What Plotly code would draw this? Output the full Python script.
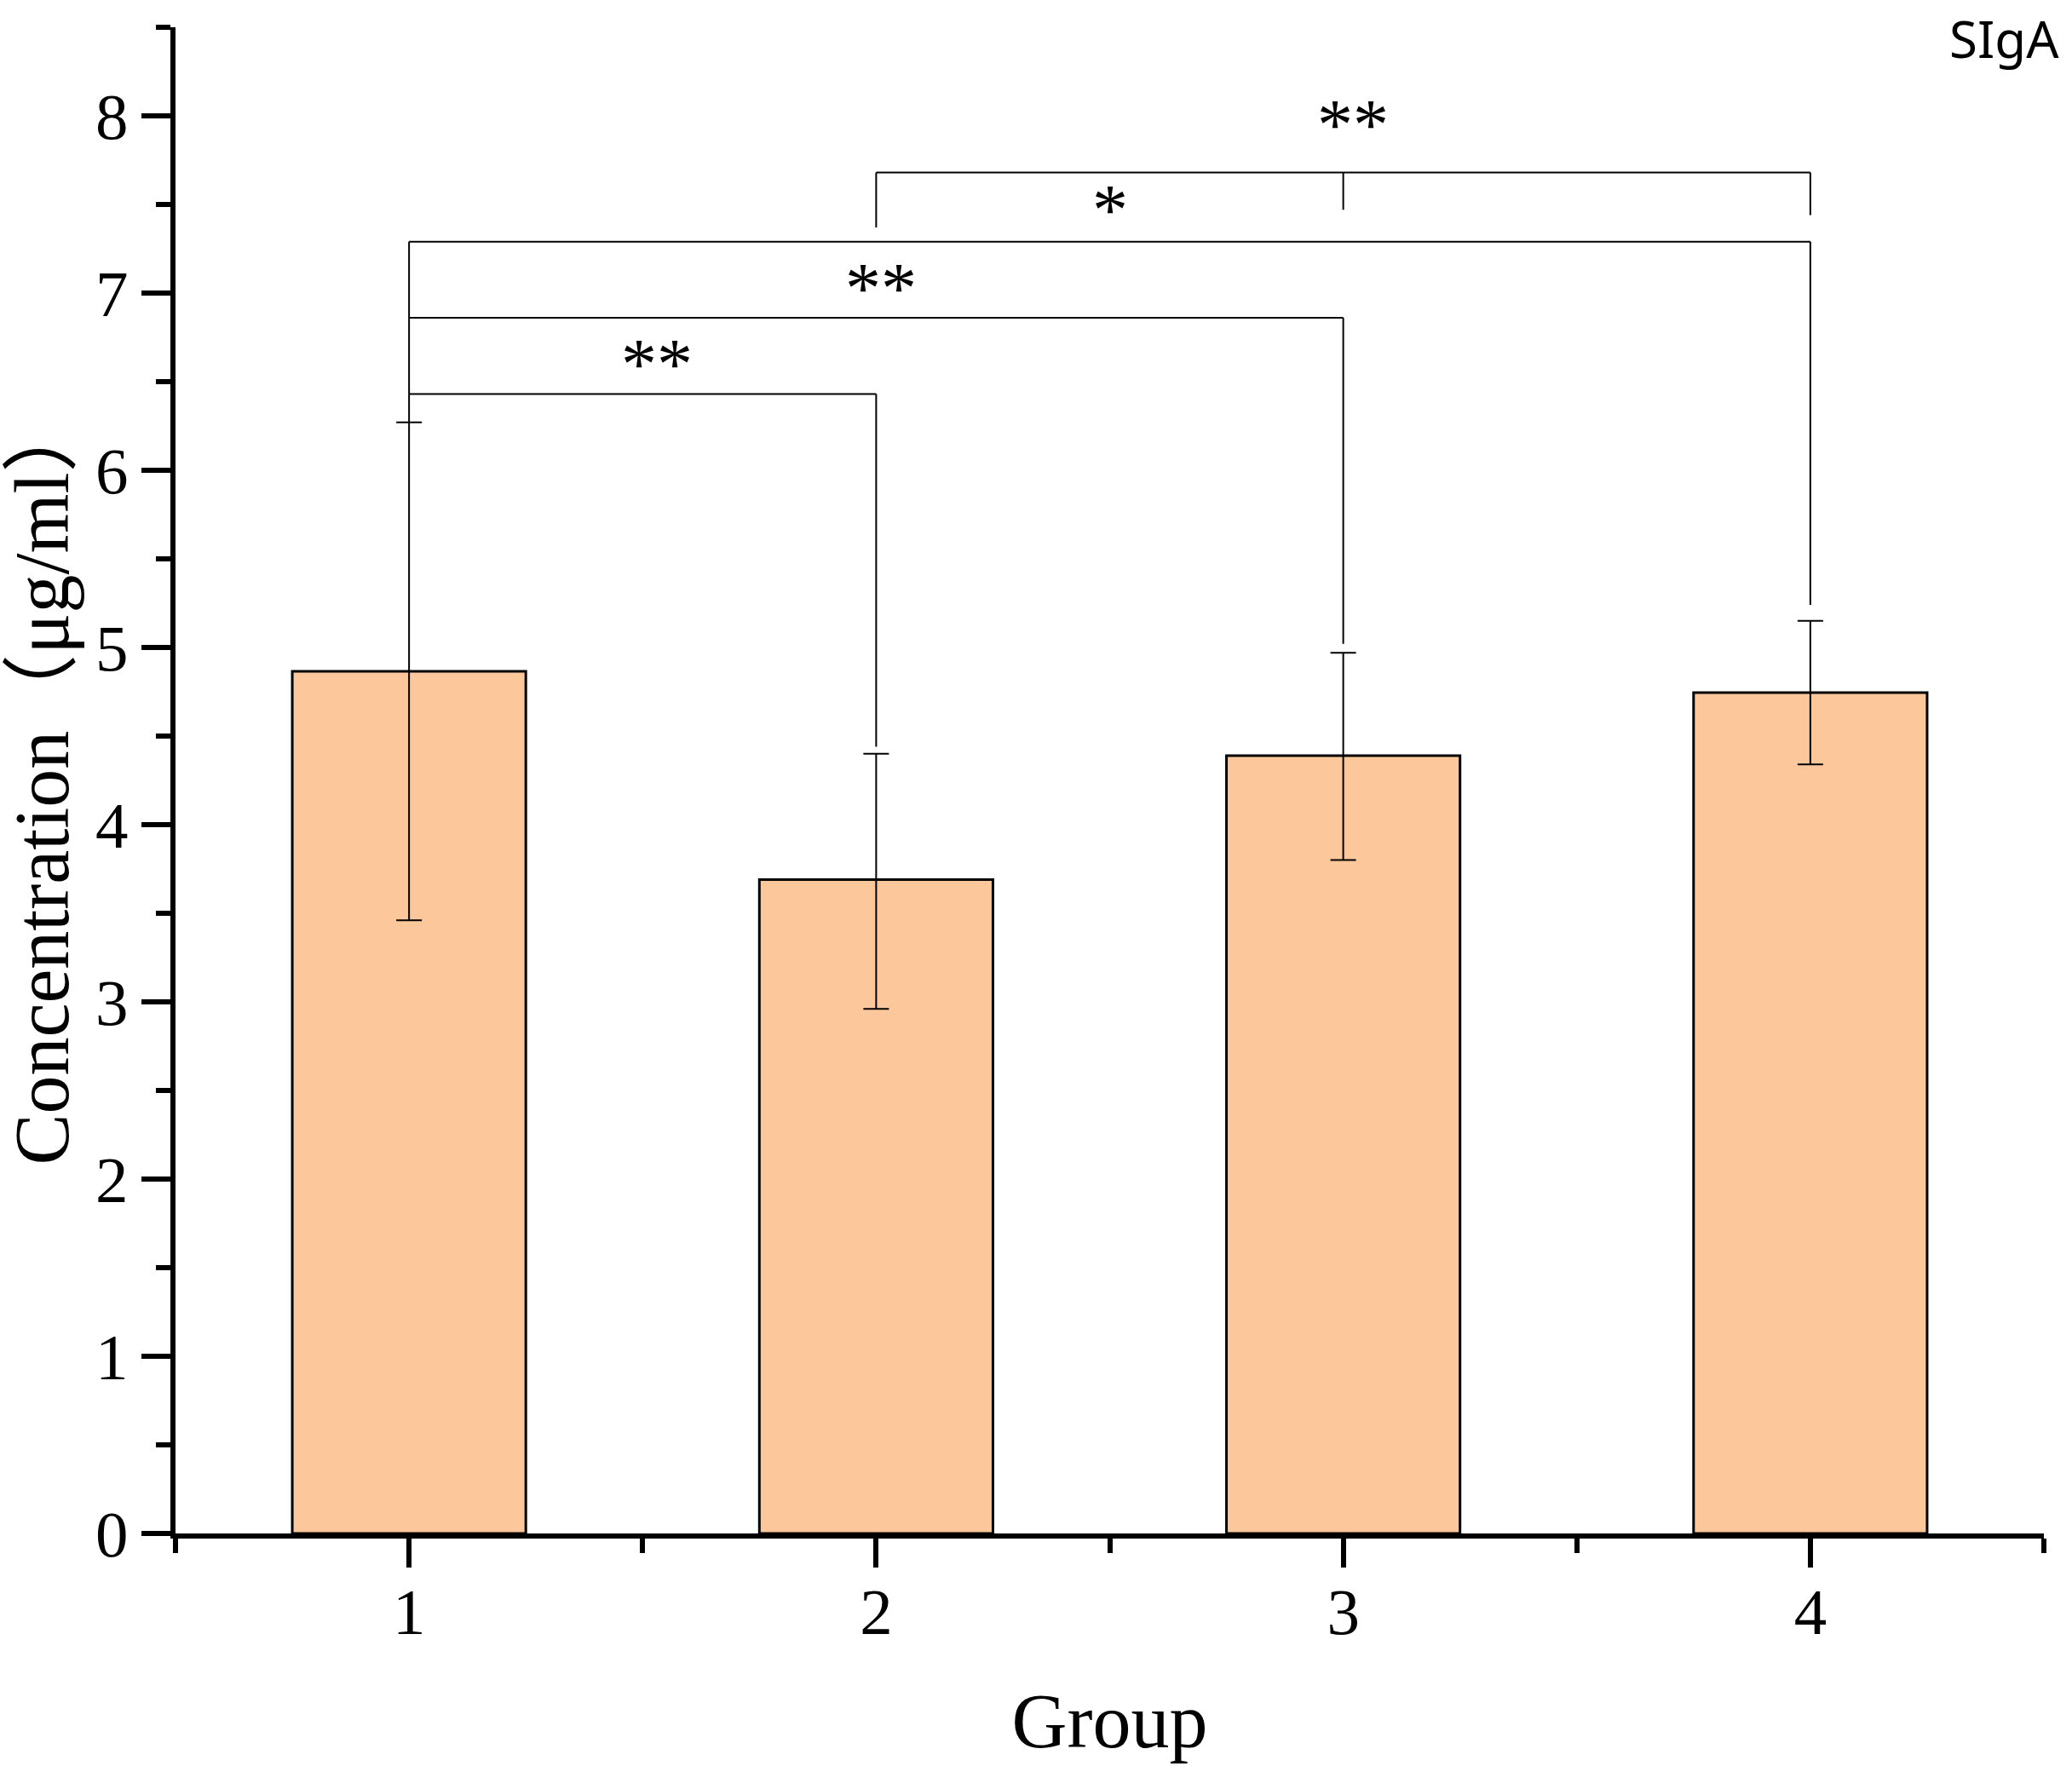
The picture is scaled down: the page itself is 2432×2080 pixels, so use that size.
import plotly.graph_objects as go

# bar data
groups = [1, 2, 3, 4]
means = [4.865, 3.69, 4.39, 4.745]
err_up = [1.405, 0.71, 0.58, 0.405]
err_down = [1.405, 0.73, 0.59, 0.405]

y_ticks = [0, 1, 2, 3, 4, 5, 6, 7, 8]
x_minor = [0.5, 1.5, 2.5, 3.5, 4.5]

# significance brackets from group 1: right group, bracket height, left leg end, right leg end
br_left = [1, 1, 1]
br_right = [2, 3, 4]
br_height = [6.43, 6.86, 7.29]
br_left_end = [6.27, 6.43, 6.86]
br_right_end = [4.44, 5.02, 5.24]

# upper bracket starting at group 2 with legs at 2, 3 and 4
top_legs = [2, 3, 4]
top_height = 7.68
top_leg_ends = [7.37, 7.47, 7.44]

star_text = ['**', '**', '*', '**']
star_x = [1.53, 2.01, 2.50, 3.02]
star_y = [6.66, 7.09, 7.53, 8.01]

serif = 'Liberation Serif, Times New Roman, Noto Sans CJK SC, serif'

fig = go.Figure()

fig.add_trace(go.Bar(
    x=groups,
    y=means,
    width=0.5,
    marker=dict(color='#FCC89B', line=dict(color='black', width=3)),
    error_y=dict(type='data', symmetric=False, array=err_up, arrayminus=err_down,
                 color='black', thickness=2, width=15),
    showlegend=False,
    hoverinfo='skip'
))

line_style = dict(color='black', width=2)

# brackets from group 1
for xl, xr, h, le, re in zip(br_left, br_right, br_height, br_left_end, br_right_end):
    fig.add_shape(type='line', xref='x', yref='y', x0=xl, x1=xr, y0=h, y1=h, line=line_style)
    fig.add_shape(type='line', xref='x', yref='y', x0=xl, x1=xl, y0=h, y1=le, line=line_style)
    fig.add_shape(type='line', xref='x', yref='y', x0=xr, x1=xr, y0=h, y1=re, line=line_style)

# top bracket
fig.add_shape(type='line', xref='x', yref='y', x0=top_legs[0], x1=top_legs[-1],
              y0=top_height, y1=top_height, line=line_style)
for lx, le in zip(top_legs, top_leg_ends):
    fig.add_shape(type='line', xref='x', yref='y', x0=lx, x1=lx, y0=top_height, y1=le, line=line_style)

for t, sx, sy in zip(star_text, star_x, star_y):
    fig.add_annotation(x=sx, y=sy, xref='x', yref='y', text=t, showarrow=False,
                       font=dict(family=serif, size=84, color='black'),
                       xanchor='center', yanchor='middle', yshift=-13)

fig.add_annotation(x=1, y=1, xref='paper', yref='paper', text='SIgA', showarrow=False,
                   xanchor='right', yanchor='top', xshift=20, yshift=30,
                   font=dict(family='Noto Sans, Open Sans, sans-serif', size=60, color='black'))

fig.update_layout(
    width=2432,
    height=2080,
    margin=dict(l=206, r=33, t=32, b=280),
    plot_bgcolor='white',
    paper_bgcolor='white',
    xaxis=dict(
        range=[0.5, 4.5],
        tickvals=groups,
        ticks='outside', ticklen=34, tickwidth=6, tickcolor='black',
        minor=dict(tickvals=x_minor, ticks='outside', ticklen=17, tickwidth=6, tickcolor='black'),
        showline=True, linewidth=6, linecolor='black',
        showgrid=False, zeroline=False,
        ticklabelstandoff=-14,
        tickfont=dict(family=serif, size=77, color='black'),
        title=dict(text='Group', font=dict(family=serif, size=90, color='black'), standoff=56)
    ),
    yaxis=dict(
        range=[0, 8.5],
        tickvals=y_ticks,
        ticks='outside', ticklen=34, tickwidth=6, tickcolor='black',
        minor=dict(dtick=0.5, tick0=0, ticks='outside', ticklen=17, tickwidth=6, tickcolor='black'),
        showline=True, linewidth=6, linecolor='black',
        showgrid=False, zeroline=False,
        tickfont=dict(family=serif, size=77, color='black'),
        title=dict(text='Concentration（μg/ml）', font=dict(family=serif, size=90, color='black'),
                   standoff=15)
    )
)

fig.write_html("out.html", config={'displayModeBar': False},
               post_script="document.body.style.margin='0';document.body.style.overflow='hidden';")
